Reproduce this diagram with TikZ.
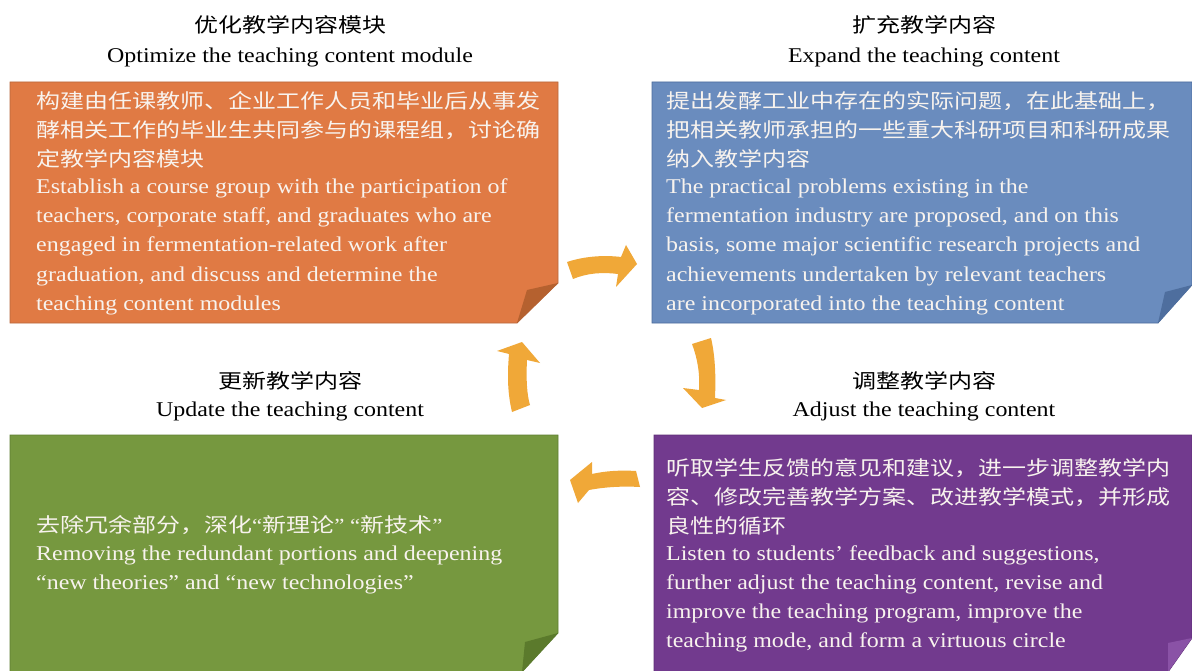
\documentclass[tikz,border=0pt]{standalone}
\usepackage{fontspec}
\setmainfont{Liberation Serif}[FakeStretch=1.14]
\newfontfamily\cjk{Noto Sans CJK SC}[FakeStretch=1.2]
\definecolor{orbox}{HTML}{E07A44}
\definecolor{orfold}{HTML}{B5612F}
\definecolor{orline}{HTML}{B8683C}
\definecolor{blbox}{HTML}{6A8CBE}
\definecolor{blfold}{HTML}{4E6E9E}
\definecolor{blline}{HTML}{4C6C9C}
\definecolor{grbox}{HTML}{76983F}
\definecolor{grfold}{HTML}{5B7A2C}
\definecolor{grline}{HTML}{5E7E32}
\definecolor{pubox}{HTML}{723A8E}
\definecolor{pufold}{HTML}{8A52A6}
\definecolor{puline}{HTML}{5E2E76}
\definecolor{arrowor}{HTML}{F0A838}
\definecolor{boxtext}{HTML}{F8F3EE}
\tikzset{
  zh/.style={anchor=base west, inner sep=0pt, font=\cjk\fontsize{20}{24}\selectfont, text=boxtext},
  en/.style={anchor=base west, inner sep=0pt, font=\fontsize{21}{24}\selectfont, text=boxtext},
  tzh/.style={anchor=base, inner sep=0pt, font=\cjk\fontsize{20}{24}\selectfont, text=black},
  ten/.style={anchor=base, inner sep=0pt, font=\fontsize{21}{24}\selectfont, text=black},
  blockarrow/.style={fill=arrowor},
}
\begin{document}
\begin{tikzpicture}[x=1pt,y=-1pt]
\useasboundingbox (0,0) rectangle (1192,671);
\fill[white] (0,0) rectangle (1192,671);

% ---- boxes ----
\filldraw[fill=orbox, draw=orline, line width=0.8pt] (10,82) -- (558,82) -- (558,283) -- (517,323) -- (10,323) -- cycle;
\fill[orfold] (558,283) -- (527,290) -- (517,323) -- cycle;

\filldraw[fill=blbox, draw=blline, line width=0.8pt] (652,82) -- (1192,82) -- (1192,285) -- (1158,323) -- (652,323) -- cycle;
\fill[blfold] (1192,285) -- (1165,292) -- (1158,323) -- cycle;

\filldraw[fill=grbox, draw=grline, line width=0.8pt] (10,435) -- (558,435) -- (558,633) -- (522,672) -- (10,672) -- cycle;
\fill[grfold] (558,633) -- (525,642) -- (522,672) -- cycle;

\filldraw[fill=pubox, draw=puline, line width=0.8pt] (654,435) -- (1192,435) -- (1192,638) -- (1168,672) -- (654,672) -- cycle;
\fill[pufold] (1192,638) -- (1168,643) -- (1168,672) -- cycle;

% ---- titles ----
\node[tzh] (t1z) at (290,33) {优化教学内容模块};
\node[ten] (t1e) at (290,63) {Optimize the teaching content module};
\node[tzh] (t2z) at (924,33) {扩充教学内容};
\node[ten] (t2e) at (924,63) {Expand the teaching content};
\node[tzh] (t3z) at (290,388) {更新教学内容};
\node[ten] (t3e) at (290,416) {Update the teaching content};
\node[tzh] (t4z) at (924,388) {调整教学内容};
\node[ten] (t4e) at (924,416) {Adjust the teaching content};

% ---- orange box text ----
\node[zh] (o1) at (36,109) {构建由任课教师、企业工作人员和毕业后从事发};
\node[zh] (o2) at (36,138) {酵相关工作的毕业生共同参与的课程组，讨论确};
\node[zh] (o3) at (36,167) {定教学内容模块};
\node[en] (o4) at (36,194) {Establish a course group with the participation of};
\node[en] (o5) at (36,223) {teachers, corporate staff, and graduates who are};
\node[en] (o6) at (36,252) {engaged in fermentation-related work after};
\node[en] (o7) at (36,281) {graduation, and discuss and determine the};
\node[en] (o8) at (36,310) {teaching content modules};

% ---- blue box text ----
\node[zh] (b1) at (666,109) {提出发酵工业中存在的实际问题，在此基础上，};
\node[zh] (b2) at (666,138) {把相关教师承担的一些重大科研项目和科研成果};
\node[zh] (b3) at (666,167) {纳入教学内容};
\node[en] (b4) at (666,194) {The practical problems existing in the};
\node[en] (b5) at (666,223) {fermentation industry are proposed, and on this};
\node[en] (b6) at (666,252) {basis, some major scientific research projects and};
\node[en] (b7) at (666,281) {achievements undertaken by relevant teachers};
\node[en] (b8) at (666,310) {are incorporated into the teaching content};

% ---- purple box text ----
\node[zh] (p1) at (666,475) {听取学生反馈的意见和建议，进一步调整教学内};
\node[zh] (p2) at (666,504) {容、修改完善教学方案、改进教学模式，并形成};
\node[zh] (p3) at (666,533) {良性的循环};
\node[en] (p4) at (666,560) {Listen to students’ feedback and suggestions,};
\node[en] (p5) at (666,589) {further adjust the teaching content, revise and};
\node[en] (p6) at (666,618) {improve the teaching program, improve the};
\node[en] (p7) at (666,647) {teaching mode, and form a virtuous circle};

% ---- green box text ----
\node[zh] (g1) at (36,532) {去除冗余部分，深化{\rmfamily “}新理论{\rmfamily ” “}新技术{\rmfamily ”}};
\node[en] (g2) at (36,560) {Removing the redundant portions and deepening};
\node[en] (g3) at (36,589) {“new theories” and “new technologies”};

% ---- curved block arrows ----
\fill[blockarrow] (567,262) .. controls (585,256) and (605,255) .. (621,257) -- (626,245) -- (637,264) -- (616,287) -- (618,274) .. controls (603,272) and (587,273) .. (573,279) -- cycle;
\fill[blockarrow] (692,344) .. controls (698,360) and (700,375) .. (699,390) -- (683,388) -- (702,408) -- (726,400) -- (715,398) .. controls (716,375) and (715,355) .. (711,338) -- cycle;
\fill[blockarrow] (640,487) .. controls (622,486) and (605,487) .. (589,490) -- (578,503) -- (570,480) -- (592,462) -- (592,474) .. controls (605,471) and (620,470) .. (636,471) -- cycle;
\fill[blockarrow] (512,412) .. controls (508,395) and (507,378) .. (509,354) -- (497,351) -- (522,342) -- (540,363) -- (527,360) .. controls (526,380) and (527,395) .. (530,405) -- cycle;
\end{tikzpicture}
\end{document}
